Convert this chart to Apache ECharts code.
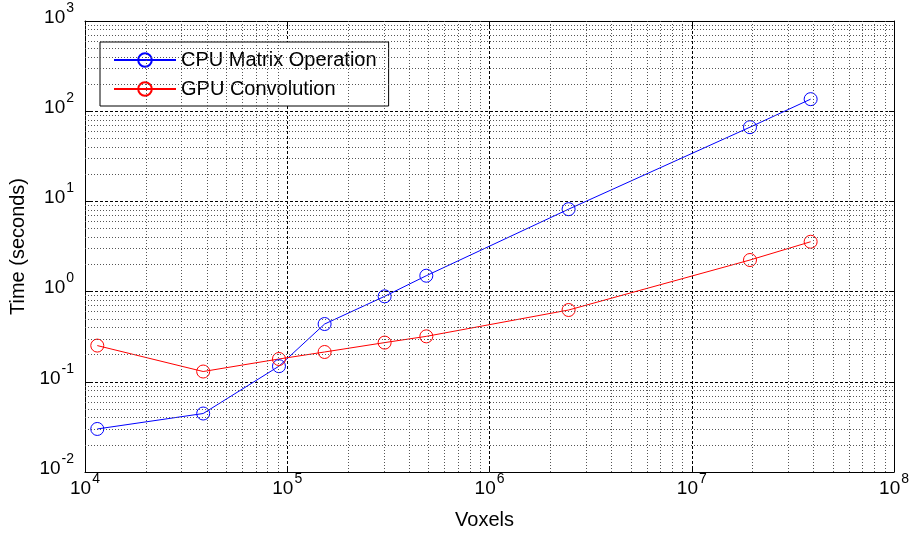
<!DOCTYPE html>
<html>
<head>
<meta charset="utf-8">
<script src="https://cdn.jsdelivr.net/npm/echarts@6/dist/echarts.min.js"></script>
<style>
html,body{margin:0;padding:0;background:#fff;}
#chart{width:912px;height:535px;}
</style>
</head>
<body>
<div id="chart"></div>
<script>
// ---- data ----
var voxels = [11500, 38400, 91000, 153000, 303000, 487000, 2460000, 19400000, 38700000];
var cpuTime = [0.030, 0.0445, 0.149, 0.437, 0.886, 1.50, 8.2, 66.5, 136];
var gpuTime = [0.252, 0.130, 0.179, 0.214, 0.272, 0.319, 0.625, 2.24, 3.57];
var seriesNames = ['CPU Matrix Operation', 'GPU Convolution'];
var xRange = [1e4, 1e8];
var yRange = [1e-2, 1e3];

var FONT = '"Liberation Sans", Arial, Helvetica, sans-serif';

function pairs(xs, ys) {
  return xs.map(function (x, i) { return [x, ys[i]]; });
}
function minorValues(lo, hi) {
  var out = [];
  var d0 = Math.round(Math.log10(lo)), d1 = Math.round(Math.log10(hi));
  for (var d = d0; d < d1; d++) {
    for (var k = 2; k <= 9; k++) out.push(+(k * Math.pow(10, d)).toPrecision(6));
  }
  return out;
}
function powLabel(v) {
  var e = Math.round(Math.log10(v));
  return '{b|10}{s|' + e + '}';
}
var rich = {
  b: { fontSize: 19, fontFamily: FONT, color: '#000', lineHeight: 19, verticalAlign: 'bottom' },
  s: { fontSize: 14, fontFamily: FONT, color: '#000', lineHeight: 14, verticalAlign: 'bottom', padding: [0, 0, 12, 1] }
};

var minorLines = minorValues(xRange[0], xRange[1]).map(function (v) { return { xAxis: v }; })
  .concat(minorValues(yRange[0], yRange[1]).map(function (v) { return { yAxis: v }; }));

var chart = echarts.init(document.getElementById('chart'), null, { renderer: 'canvas' });
var option = {
  animation: false,
  backgroundColor: '#fff',
  grid: { left: 85, right: 14, top: 21, bottom: 62.5, containLabel: false },
  legend: {
    data: seriesNames,
    orient: 'vertical',
    left: 100, top: 42,
    backgroundColor: '#fff',
    borderColor: '#000', borderWidth: 1,
    padding: [8, 12, 7, 13],
    itemWidth: 62, itemHeight: 17, itemGap: 9,
    textStyle: { fontSize: 20, fontFamily: FONT, color: '#000', lineHeight: 20 }
  },
  xAxis: [{
    type: 'log', logBase: 10, min: xRange[0], max: xRange[1],
    name: 'Voxels', nameLocation: 'middle', nameGap: 38,
    nameTextStyle: { fontSize: 20, fontFamily: FONT, color: '#000', padding: [0, 10, 0, 0] },
    axisLine: { show: true, lineStyle: { color: '#000', width: 1 } },
    axisTick: { show: true, inside: true, length: 5, lineStyle: { color: '#000' } },
    axisLabel: { margin: 7, formatter: powLabel, rich: rich },
    splitLine: { show: true, lineStyle: { color: '#000', type: [3, 2], width: 1 } }
  }, {
    type: 'log', logBase: 10, min: xRange[0], max: xRange[1], position: 'top',
    axisLine: { show: true, lineStyle: { color: '#000', width: 1 } },
    axisTick: { show: true, inside: true, length: 5, lineStyle: { color: '#000' } },
    axisLabel: { show: false }, splitLine: { show: false }
  }],
  yAxis: [{
    type: 'log', logBase: 10, min: yRange[0], max: yRange[1],
    name: 'Time (seconds)', nameLocation: 'middle', nameGap: 51, nameRotate: 90,
    nameTextStyle: { fontSize: 20, fontFamily: FONT, color: '#000' },
    axisLine: { show: true, lineStyle: { color: '#000', width: 1 } },
    axisTick: { show: true, inside: true, length: 5, lineStyle: { color: '#000' } },
    axisLabel: { margin: 11, formatter: powLabel, rich: rich, padding: [0, 0, 7, 0] },
    splitLine: { show: true, lineStyle: { color: '#000', type: [3, 2], width: 1 } }
  }, {
    type: 'log', logBase: 10, min: yRange[0], max: yRange[1], position: 'right',
    axisLine: { show: true, lineStyle: { color: '#000', width: 1 } },
    axisTick: { show: true, inside: true, length: 5, lineStyle: { color: '#000' } },
    axisLabel: { show: false }, splitLine: { show: false }
  }],
  series: [{
    name: 'minorGrid', type: 'line', data: [], silent: true,
    xAxisIndex: 0, yAxisIndex: 0,
    markLine: {
      silent: true, symbol: ['none', 'none'], label: { show: false },
      lineStyle: { color: '#555', type: [1, 2], width: 1 },
      emphasis: { disabled: true },
      data: minorLines
    }
  }, {
    name: seriesNames[0], type: 'line', xAxisIndex: 0, yAxisIndex: 0,
    data: pairs(voxels, cpuTime),
    symbol: 'circle', symbolSize: 13,
    itemStyle: { color: 'rgba(255,255,255,0)', borderColor: '#0000ff', borderWidth: 1 },
    lineStyle: { color: '#0000ff', width: 1 },
    emphasis: { disabled: true }
  }, {
    name: seriesNames[1], type: 'line', xAxisIndex: 0, yAxisIndex: 0,
    data: pairs(voxels, gpuTime),
    symbol: 'circle', symbolSize: 13,
    itemStyle: { color: 'rgba(255,255,255,0)', borderColor: '#ff0000', borderWidth: 1 },
    lineStyle: { color: '#ff0000', width: 1 },
    emphasis: { disabled: true }
  }]
};
chart.setOption(option);
</script>
</body>
</html>
